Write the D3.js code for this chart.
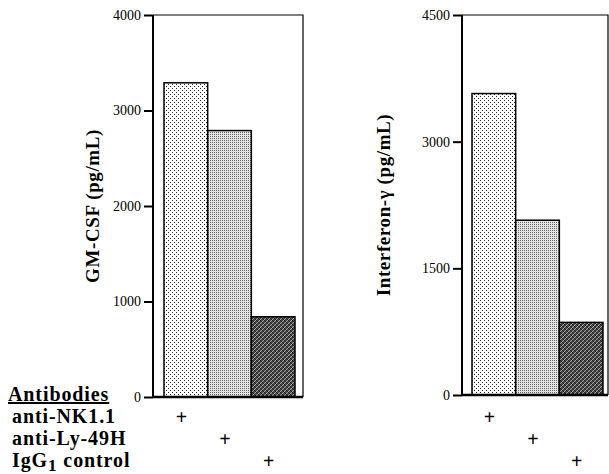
<!DOCTYPE html>
<html lang="en">
<head>
  <meta charset="UTF-8">
  <title>GM-CSF and Interferon-gamma</title>
  <script src="https://d3js.org/d3.v7.min.js"></script>
  <style>
    body { margin: 0; background: #fff; }
    text { font-family: "Liberation Serif", "DejaVu Serif", serif; }
    .tick text { font-size: 14px; }
    .ylab { font-size: 19px; font-weight: bold; letter-spacing: 0.6px; }
    .row { font-size: 20px; font-weight: bold; letter-spacing: 0.9px; }
  </style>
</head>
<body>
  <svg width="609" height="474"></svg>
  <script>
    // data
    const groups = ["anti-NK1.1", "anti-Ly-49H", "IgG1 control"];
    const gmcsf = [3290, 2790, 840];
    const ifng = [3570, 2070, 860];
    const gmTicks = [0, 1000, 2000, 3000, 4000];
    const ifTicks = [0, 1500, 3000, 4500];

    const svg = d3.select("svg");
    const defs = svg.append("defs");

    // fill patterns for the three bars
    const p1 = defs.append("pattern").attr("id", "pat0")
        .attr("width", 4).attr("height", 4).attr("patternUnits", "userSpaceOnUse");
    p1.append("rect").attr("width", 4).attr("height", 4).attr("fill", "#fff");
    p1.append("rect").attr("x", 0).attr("y", 0).attr("width", 1).attr("height", 1).attr("fill", "#222");
    p1.append("rect").attr("x", 2).attr("y", 2).attr("width", 1).attr("height", 1).attr("fill", "#222");

    const p2 = defs.append("pattern").attr("id", "pat1")
        .attr("width", 2).attr("height", 2).attr("patternUnits", "userSpaceOnUse");
    p2.append("rect").attr("width", 2).attr("height", 2).attr("fill", "#e4e4e4");
    p2.append("rect").attr("x", 0).attr("y", 0).attr("width", 1).attr("height", 1).attr("fill", "#666");

    const p3 = defs.append("pattern").attr("id", "pat2")
        .attr("width", 4).attr("height", 4).attr("patternUnits", "userSpaceOnUse");
    p3.append("rect").attr("width", 4).attr("height", 4).attr("fill", "#4a4a4a");
    p3.append("path").attr("d", "M0,4L4,0M-1,1L1,-1M3,5L5,3").attr("stroke", "#bbb").attr("stroke-width", 0.8);
    p3.append("path").attr("d", "M0,0L4,4").attr("stroke", "#111").attr("stroke-width", 0.8);

    const rowY = [401, 423, 445, 467];

    function panel(opt) {
      const y = d3.scaleLinear().domain([0, opt.max]).range([opt.bottom, opt.top]);
      const x = d3.scaleBand().domain(groups).range([opt.barL, opt.barR]).padding(0);

      const g = svg.append("g");

      // frame (top and right)
      g.append("path")
          .attr("d", `M${opt.axisX},${opt.top}H${opt.right}V${opt.bottom}`)
          .attr("fill", "none").attr("stroke", "#000").attr("stroke-width", 1.2);

      // bars
      g.selectAll("rect.bar").data(opt.values).enter().append("rect")
          .attr("class", "bar")
          .attr("x", (d, i) => x(groups[i]))
          .attr("width", x.bandwidth())
          .attr("y", d => y(d))
          .attr("height", d => opt.bottom - y(d))
          .attr("fill", (d, i) => `url(#pat${i})`)
          .attr("stroke", "#000").attr("stroke-width", 1.5);

      // y axis
      const ax = g.append("g")
          .attr("transform", `translate(${opt.axisX},0)`)
          .call(d3.axisLeft(y).tickValues(opt.ticks).tickSize(9).tickPadding(3).tickFormat(d3.format("d")));
      ax.select(".domain").attr("stroke-width", 2).attr("d", `M0,${opt.top}V${opt.bottom}`);
      ax.selectAll(".tick line").attr("stroke-width", 2);

      // baseline
      g.append("line")
          .attr("x1", opt.axisX).attr("x2", opt.right)
          .attr("y1", opt.bottom).attr("y2", opt.bottom)
          .attr("stroke", "#000").attr("stroke-width", 2.5);

      // y label
      g.append("text").attr("class", "ylab")
          .attr("transform", `translate(${opt.labelX},${(opt.top + opt.bottom) / 2}) rotate(-90)`)
          .attr("text-anchor", "middle")
          .text(opt.label);

      // plus signs under each bar
      g.selectAll("text.plus").data(groups).enter().append("text")
          .attr("class", "plus row")
          .attr("x", d => x(d) + x.bandwidth() / 2 - 4)
          .attr("y", (d, i) => rowY[i + 1] + 1)
          .attr("text-anchor", "middle")
          .text("+");
    }

    panel({ values: gmcsf, max: 4000, ticks: gmTicks, top: 15, bottom: 397,
            axisX: 153, right: 303, barL: 164, barR: 295, labelX: 99, label: "GM-CSF (pg/mL)" });
    panel({ values: ifng, max: 4500, ticks: ifTicks, top: 15, bottom: 395,
            axisX: 462, right: 608, barL: 472, barR: 603, labelX: 390, label: "Interferon-\u03b3 (pg/mL)" });

    // antibody rows
    const rows = svg.append("g");
    rows.append("text").attr("class", "row").attr("x", 8).attr("y", rowY[0])
        .attr("text-decoration", "underline").text("Antibodies");
    rows.append("text").attr("class", "row").attr("x", 12).attr("y", rowY[1]).text(groups[0]);
    rows.append("text").attr("class", "row").attr("x", 12).attr("y", rowY[2]).text(groups[1]);
    const igg = rows.append("text").attr("class", "row").attr("x", 12).attr("y", rowY[3]);
    igg.append("tspan").text("IgG");
    igg.append("tspan").attr("dy", 4).attr("font-size", "17px").text("1");
    igg.append("tspan").attr("dy", -4).text(" control");
  </script>
</body>
</html>
